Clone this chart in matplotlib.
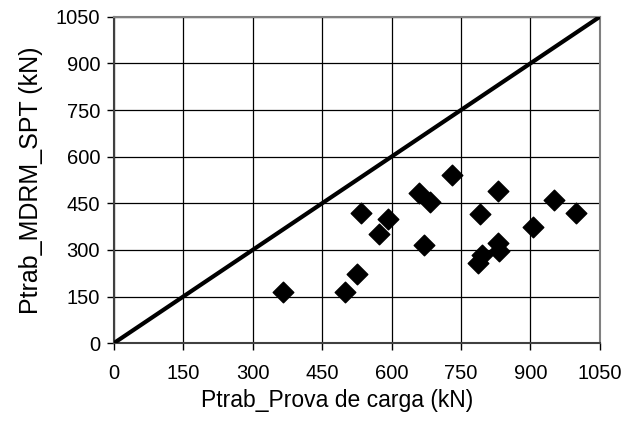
import matplotlib
matplotlib.use("Agg")
import matplotlib.pyplot as plt

plt.rcParams["font.family"] = ["Liberation Sans", "DejaVu Sans"]

# --- Data ---
prova_carga = [366, 500, 526, 533, 573, 593, 659, 684, 671, 731,
               786, 795, 791, 831, 830, 832, 906, 951, 999]
mdrm_spt = [166, 166, 224, 420, 351, 398, 484, 453, 316, 541,
            258, 285, 415, 490, 322, 295, 375, 461, 418]
line_x = [0, 1050]
line_y = [0, 1050]
ticks = [0, 150, 300, 450, 600, 750, 900, 1050]

# --- Plot ---
fig = plt.figure(figsize=(6.26, 4.21), dpi=100)
ax = fig.add_axes([0.182, 0.185, 0.776, 0.775])

ax.plot(line_x, line_y, color="black", lw=3, zorder=3)
ax.scatter(prova_carga, mdrm_spt, marker="D", s=110, color="black", zorder=4)

ax.set_xlim(0, 1050)
ax.set_ylim(0, 1050)
ax.set_xticks(ticks)
ax.set_yticks(ticks)
ax.grid(True, color="black", lw=0.9)
ax.set_axisbelow(True)

for side in ["top", "right"]:
    ax.spines[side].set_color("#808080")
    ax.spines[side].set_linewidth(1.5)
for side in ["left", "bottom"]:
    ax.spines[side].set_color("#404040")
    ax.spines[side].set_linewidth(1.5)

ax.tick_params(direction="out", length=5, width=1, labelsize=14.5)
ax.tick_params(axis="x", pad=10)
ax.tick_params(axis="y", pad=5)
ax.set_xlabel("Ptrab_Prova de carga (kN)", fontsize=16.5, labelpad=4)
ax.xaxis.label.set_x(0.459)
ax.set_ylabel("Ptrab_MDRM_SPT (kN)", fontsize=18, labelpad=9)

fig.savefig("out.png", dpi=100)
